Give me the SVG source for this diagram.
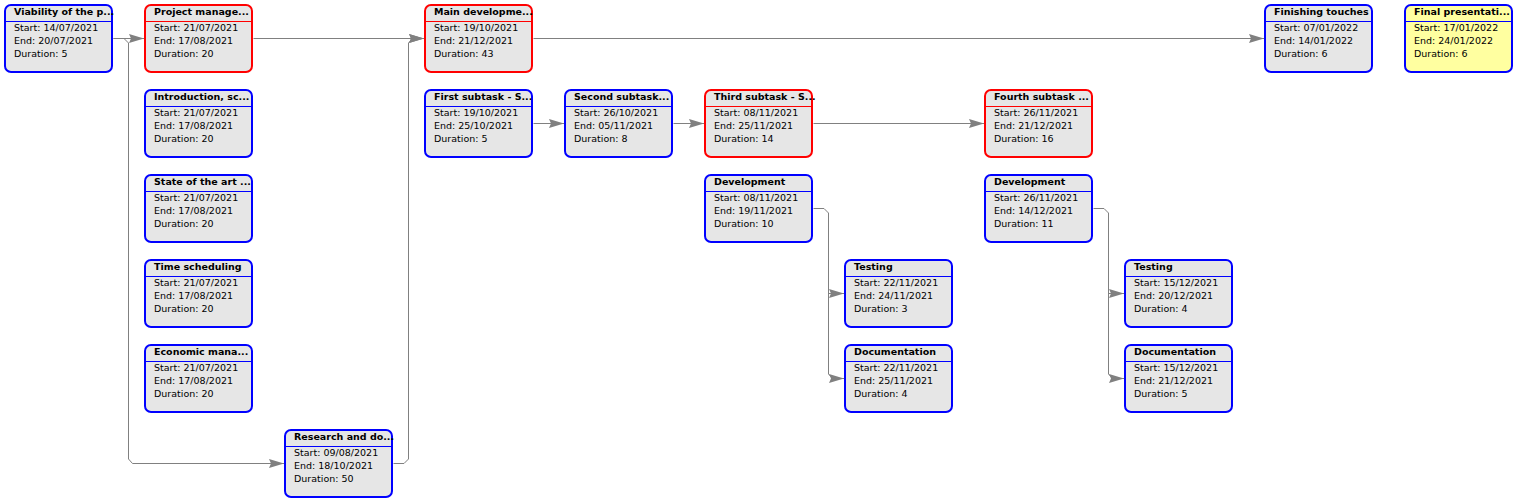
<svg xmlns="http://www.w3.org/2000/svg" width="1520" height="504" viewBox="0 0 1520 504">
<style>
  .box { fill: #e6e6e6; stroke-width: 2; }
  .blue .box, .blue .sep { stroke: #0000ff; }
  .red .box, .red .sep { stroke: #ff0000; }
  .yellow .box { fill: #ffffa0; }
  .sep { stroke-width: 1; }
  .title { font-family: "DejaVu Sans", Verdana, sans-serif; font-size: 9.5px; font-weight: bold; fill: #000; }
  .info { font-family: "DejaVu Sans", Verdana, sans-serif; font-size: 9.5px; fill: #000; }
  .conn path { fill: none; stroke: #808080; stroke-width: 1; marker-end: url(#arrow); }
</style>
<defs>
  <marker id="arrow" markerUnits="userSpaceOnUse" markerWidth="15" markerHeight="10" refX="15" refY="5" orient="auto">
    <path d="M0,0.5 L15,5 L0,9.5 L2,5 z" fill="#808080"/>
  </marker>
  <symbol id="frame" overflow="visible">
    <rect class="box" x="1" y="1" width="107" height="67" rx="6" ry="6"/>
    <line class="sep" x1="1" y1="17.5" x2="108" y2="17.5"/>
  </symbol>
</defs>
<rect width="1520" height="504" fill="#ffffff"/>

<g id="connectors" class="conn">
  <path d="M113.5,38.5 H144"/>
  <path d="M113.5,38.5 H124 L128.5,43 V459 L132.5,463.5 H284"/>
  <path d="M253.5,38.5 H424"/>
  <path d="M393.5,463.5 H404 L408.5,459 V43 L412.5,38.5 H424" style="marker-end:url(#arrow)"/>
  <path d="M533.5,38.5 H1264"/>
  <path d="M533.5,123.5 H564"/>
  <path d="M673.5,123.5 H704"/>
  <path d="M813.5,123.5 H984"/>
  <path d="M813.5,208.5 H824 L828.5,213 V374 L832.5,378.5 H844"/>
  <path d="M828.5,293.5 H844"/>
  <path d="M1093.5,208.5 H1104 L1108.5,213 V374 L1112.5,378.5 H1124"/>
  <path d="M1108.5,293.5 H1124"/>
</g>

<g id="n-viability" class="node blue" transform="translate(4,4)">
  <rect class="box" x="1" y="1" width="107" height="67" rx="6"/><line class="sep" x1="1" y1="17.5" x2="108" y2="17.5"/>
  <text class="title" x="10" y="11">Viability of the p...</text>
  <text class="info" x="10" y="27">Start: 14/07/2021</text>
  <text class="info" x="10" y="40">End: 20/07/2021</text>
  <text class="info" x="10" y="53">Duration: 5</text>
</g>
<g id="n-projmgmt" class="node red" transform="translate(144,4)">
  <rect class="box" x="1" y="1" width="107" height="67" rx="6"/><line class="sep" x1="1" y1="17.5" x2="108" y2="17.5"/>
  <text class="title" x="10" y="11">Project manage...</text>
  <text class="info" x="10" y="27">Start: 21/07/2021</text>
  <text class="info" x="10" y="40">End: 17/08/2021</text>
  <text class="info" x="10" y="53">Duration: 20</text>
</g>
<g id="n-intro" class="node blue" transform="translate(144,89)">
  <rect class="box" x="1" y="1" width="107" height="67" rx="6"/><line class="sep" x1="1" y1="17.5" x2="108" y2="17.5"/>
  <text class="title" x="10" y="11">Introduction, sc...</text>
  <text class="info" x="10" y="27">Start: 21/07/2021</text>
  <text class="info" x="10" y="40">End: 17/08/2021</text>
  <text class="info" x="10" y="53">Duration: 20</text>
</g>
<g id="n-stateart" class="node blue" transform="translate(144,174)">
  <rect class="box" x="1" y="1" width="107" height="67" rx="6"/><line class="sep" x1="1" y1="17.5" x2="108" y2="17.5"/>
  <text class="title" x="10" y="11">State of the art ...</text>
  <text class="info" x="10" y="27">Start: 21/07/2021</text>
  <text class="info" x="10" y="40">End: 17/08/2021</text>
  <text class="info" x="10" y="53">Duration: 20</text>
</g>
<g id="n-timesched" class="node blue" transform="translate(144,259)">
  <rect class="box" x="1" y="1" width="107" height="67" rx="6"/><line class="sep" x1="1" y1="17.5" x2="108" y2="17.5"/>
  <text class="title" x="10" y="11">Time scheduling</text>
  <text class="info" x="10" y="27">Start: 21/07/2021</text>
  <text class="info" x="10" y="40">End: 17/08/2021</text>
  <text class="info" x="10" y="53">Duration: 20</text>
</g>
<g id="n-economic" class="node blue" transform="translate(144,344)">
  <rect class="box" x="1" y="1" width="107" height="67" rx="6"/><line class="sep" x1="1" y1="17.5" x2="108" y2="17.5"/>
  <text class="title" x="10" y="11">Economic mana...</text>
  <text class="info" x="10" y="27">Start: 21/07/2021</text>
  <text class="info" x="10" y="40">End: 17/08/2021</text>
  <text class="info" x="10" y="53">Duration: 20</text>
</g>
<g id="n-research" class="node blue" transform="translate(284,429)">
  <rect class="box" x="1" y="1" width="107" height="67" rx="6"/><line class="sep" x1="1" y1="17.5" x2="108" y2="17.5"/>
  <text class="title" x="10" y="11">Research and do...</text>
  <text class="info" x="10" y="27">Start: 09/08/2021</text>
  <text class="info" x="10" y="40">End: 18/10/2021</text>
  <text class="info" x="10" y="53">Duration: 50</text>
</g>
<g id="n-maindev" class="node red" transform="translate(424,4)">
  <rect class="box" x="1" y="1" width="107" height="67" rx="6"/><line class="sep" x1="1" y1="17.5" x2="108" y2="17.5"/>
  <text class="title" x="10" y="11">Main developme...</text>
  <text class="info" x="10" y="27">Start: 19/10/2021</text>
  <text class="info" x="10" y="40">End: 21/12/2021</text>
  <text class="info" x="10" y="53">Duration: 43</text>
</g>
<g id="n-first" class="node blue" transform="translate(424,89)">
  <rect class="box" x="1" y="1" width="107" height="67" rx="6"/><line class="sep" x1="1" y1="17.5" x2="108" y2="17.5"/>
  <text class="title" x="10" y="11">First subtask - S...</text>
  <text class="info" x="10" y="27">Start: 19/10/2021</text>
  <text class="info" x="10" y="40">End: 25/10/2021</text>
  <text class="info" x="10" y="53">Duration: 5</text>
</g>
<g id="n-second" class="node blue" transform="translate(564,89)">
  <rect class="box" x="1" y="1" width="107" height="67" rx="6"/><line class="sep" x1="1" y1="17.5" x2="108" y2="17.5"/>
  <text class="title" x="10" y="11">Second subtask...</text>
  <text class="info" x="10" y="27">Start: 26/10/2021</text>
  <text class="info" x="10" y="40">End: 05/11/2021</text>
  <text class="info" x="10" y="53">Duration: 8</text>
</g>
<g id="n-third" class="node red" transform="translate(704,89)">
  <rect class="box" x="1" y="1" width="107" height="67" rx="6"/><line class="sep" x1="1" y1="17.5" x2="108" y2="17.5"/>
  <text class="title" x="10" y="11">Third subtask - S...</text>
  <text class="info" x="10" y="27">Start: 08/11/2021</text>
  <text class="info" x="10" y="40">End: 25/11/2021</text>
  <text class="info" x="10" y="53">Duration: 14</text>
</g>
<g id="n-dev3" class="node blue" transform="translate(704,174)">
  <rect class="box" x="1" y="1" width="107" height="67" rx="6"/><line class="sep" x1="1" y1="17.5" x2="108" y2="17.5"/>
  <text class="title" x="10" y="11">Development</text>
  <text class="info" x="10" y="27">Start: 08/11/2021</text>
  <text class="info" x="10" y="40">End: 19/11/2021</text>
  <text class="info" x="10" y="53">Duration: 10</text>
</g>
<g id="n-test3" class="node blue" transform="translate(844,259)">
  <rect class="box" x="1" y="1" width="107" height="67" rx="6"/><line class="sep" x1="1" y1="17.5" x2="108" y2="17.5"/>
  <text class="title" x="10" y="11">Testing</text>
  <text class="info" x="10" y="27">Start: 22/11/2021</text>
  <text class="info" x="10" y="40">End: 24/11/2021</text>
  <text class="info" x="10" y="53">Duration: 3</text>
</g>
<g id="n-doc3" class="node blue" transform="translate(844,344)">
  <rect class="box" x="1" y="1" width="107" height="67" rx="6"/><line class="sep" x1="1" y1="17.5" x2="108" y2="17.5"/>
  <text class="title" x="10" y="11">Documentation</text>
  <text class="info" x="10" y="27">Start: 22/11/2021</text>
  <text class="info" x="10" y="40">End: 25/11/2021</text>
  <text class="info" x="10" y="53">Duration: 4</text>
</g>
<g id="n-fourth" class="node red" transform="translate(984,89)">
  <rect class="box" x="1" y="1" width="107" height="67" rx="6"/><line class="sep" x1="1" y1="17.5" x2="108" y2="17.5"/>
  <text class="title" x="10" y="11">Fourth subtask ...</text>
  <text class="info" x="10" y="27">Start: 26/11/2021</text>
  <text class="info" x="10" y="40">End: 21/12/2021</text>
  <text class="info" x="10" y="53">Duration: 16</text>
</g>
<g id="n-dev4" class="node blue" transform="translate(984,174)">
  <rect class="box" x="1" y="1" width="107" height="67" rx="6"/><line class="sep" x1="1" y1="17.5" x2="108" y2="17.5"/>
  <text class="title" x="10" y="11">Development</text>
  <text class="info" x="10" y="27">Start: 26/11/2021</text>
  <text class="info" x="10" y="40">End: 14/12/2021</text>
  <text class="info" x="10" y="53">Duration: 11</text>
</g>
<g id="n-test4" class="node blue" transform="translate(1124,259)">
  <rect class="box" x="1" y="1" width="107" height="67" rx="6"/><line class="sep" x1="1" y1="17.5" x2="108" y2="17.5"/>
  <text class="title" x="10" y="11">Testing</text>
  <text class="info" x="10" y="27">Start: 15/12/2021</text>
  <text class="info" x="10" y="40">End: 20/12/2021</text>
  <text class="info" x="10" y="53">Duration: 4</text>
</g>
<g id="n-doc4" class="node blue" transform="translate(1124,344)">
  <rect class="box" x="1" y="1" width="107" height="67" rx="6"/><line class="sep" x1="1" y1="17.5" x2="108" y2="17.5"/>
  <text class="title" x="10" y="11">Documentation</text>
  <text class="info" x="10" y="27">Start: 15/12/2021</text>
  <text class="info" x="10" y="40">End: 21/12/2021</text>
  <text class="info" x="10" y="53">Duration: 5</text>
</g>
<g id="n-finishing" class="node blue" transform="translate(1264,4)">
  <rect class="box" x="1" y="1" width="107" height="67" rx="6"/><line class="sep" x1="1" y1="17.5" x2="108" y2="17.5"/>
  <text class="title" x="10" y="11">Finishing touches</text>
  <text class="info" x="10" y="27">Start: 07/01/2022</text>
  <text class="info" x="10" y="40">End: 14/01/2022</text>
  <text class="info" x="10" y="53">Duration: 6</text>
</g>
<g id="n-final" class="node blue yellow" transform="translate(1404,4)">
  <rect class="box" x="1" y="1" width="107" height="67" rx="6"/><line class="sep" x1="1" y1="17.5" x2="108" y2="17.5"/>
  <text class="title" x="10" y="11">Final presentati...</text>
  <text class="info" x="10" y="27">Start: 17/01/2022</text>
  <text class="info" x="10" y="40">End: 24/01/2022</text>
  <text class="info" x="10" y="53">Duration: 6</text>
</g>
</svg>
